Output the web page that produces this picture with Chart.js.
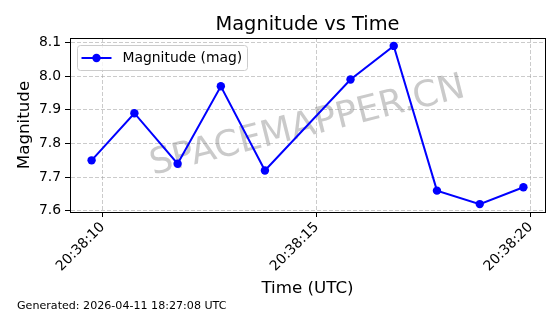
<!DOCTYPE html>
<html>
<head>
<meta charset="utf-8">
<script src="https://cdn.jsdelivr.net/npm/chart.js@4"></script>
<style>
  html, body { margin: 0; padding: 0; background: #fff; }
</style>
</head>
<body>
<canvas id="magChart" width="560" height="314"></canvas>
<script>
// data
const times = [
  "20:38:09.74", "20:38:10.74", "20:38:11.75", "20:38:12.76", "20:38:13.79",
  "20:38:15.79", "20:38:16.80", "20:38:17.81", "20:38:18.81", "20:38:19.83",
];
const magnitudes = [7.75, 7.89, 7.74, 7.97, 7.72, 7.99, 8.09, 7.66, 7.62, 7.67];
const xTickLabels = ["20:38:10", "20:38:15", "20:38:20"];
const yTickValues = [7.6, 7.7, 7.8, 7.9, 8.0, 8.1];

const seriesLabel = "Magnitude (mag)";
const titleText = "Magnitude vs Time";
const footerText = "Generated: 2026-04-11 18:27:08 UTC";
const watermarkText = "SPACEMAPPER.CN";

const FONT = "'DejaVu Sans', sans-serif";
const BLUE = "#0000ff";

function toSeconds(t) {
  const p = t.split(":");
  return Number(p[0]) * 3600 + Number(p[1]) * 60 + Number(p[2]);
}
function pad2(n) {
  return String(n).padStart(2, "0");
}
function fmtTime(s) {
  s = Math.round(s);
  return pad2(Math.floor(s / 3600)) + ":" + pad2(Math.floor((s % 3600) / 60)) + ":" + pad2(s % 60);
}

const xs = times.map(toSeconds);
const xTicks = xTickLabels.map(toSeconds);

// matplotlib style 5% margins
const xMin = Math.min(...xs), xMax = Math.max(...xs);
const yMin = Math.min(...magnitudes), yMax = Math.max(...magnitudes);
const xm = (xMax - xMin) * 0.05, ym = (yMax - yMin) * 0.05;

const decor = {
  id: "decor",
  beforeDatasetsDraw(chart) {
    const { ctx, chartArea: a } = chart;
    ctx.save();
    ctx.translate((a.left + a.right) / 2, (a.top + a.bottom) / 2 + 1.5);
    ctx.rotate(-14 * Math.PI / 180);
    ctx.font = "36px " + FONT;
    ctx.fillStyle = "rgba(128,128,128,0.42)";
    ctx.textAlign = "center";
    ctx.textBaseline = "middle";
    ctx.fillText(watermarkText, 0, 0);
    ctx.restore();
  },
  afterDatasetsDraw(chart) {
    const { ctx, chartArea: a } = chart;
    ctx.save();
    ctx.strokeStyle = "#000";
    ctx.lineWidth = 1;
    ctx.strokeRect(Math.round(a.left) + 0.5, Math.round(a.top) + 0.5,
      Math.round(a.right - a.left), Math.round(a.bottom - a.top));
    ctx.restore();
  },
  afterDraw(chart) {
    const { ctx, chartArea: a } = chart;
    ctx.save();
    // title
    ctx.fillStyle = "#000";
    ctx.font = "19.4px " + FONT;
    ctx.textAlign = "center";
    ctx.textBaseline = "alphabetic";
    ctx.fillText(titleText, (a.left + a.right) / 2, 30);
    // footer
    ctx.font = "11.1px " + FONT;
    ctx.textAlign = "left";
    ctx.fillText(footerText, 17, 309);

    // legend box
    const ds = chart.data.datasets[0];
    const bx = a.left + 7.5, by = a.top + 7.5, bw = 170, bh = 25;
    ctx.beginPath();
    ctx.roundRect(bx, by, bw, bh, 3);
    ctx.fillStyle = "rgba(255,255,255,0.8)";
    ctx.fill();
    ctx.strokeStyle = "#cccccc";
    ctx.lineWidth = 1;
    ctx.stroke();
    const ly = by + 12.5;
    ctx.beginPath();
    ctx.moveTo(bx + 4, ly);
    ctx.lineTo(bx + 34, ly);
    ctx.strokeStyle = ds.borderColor;
    ctx.lineWidth = ds.borderWidth;
    ctx.stroke();
    ctx.beginPath();
    ctx.arc(bx + 19, ly, ds.pointRadius, 0, Math.PI * 2);
    ctx.fillStyle = ds.pointBackgroundColor;
    ctx.fill();
    ctx.fillStyle = "#000";
    ctx.font = "13.9px " + FONT;
    ctx.textBaseline = "middle";
    ctx.fillText(ds.label, bx + 45, ly);
    ctx.restore();
  },
};

const gridColor = "rgba(160,160,160,0.55)";

new Chart(document.getElementById("magChart"), {
  type: "line",
  data: {
    datasets: [
      {
        label: seriesLabel,
        data: xs.map((x, i) => ({ x: x, y: magnitudes[i] })),
        borderColor: BLUE,
        backgroundColor: BLUE,
        pointBackgroundColor: BLUE,
        pointBorderColor: BLUE,
        borderWidth: 2,
        pointRadius: 4.2,
        pointBorderWidth: 0,
        tension: 0,
        clip: false,
      },
    ],
  },
  options: {
    responsive: false,
    animation: false,
    events: [],
    layout: { padding: { top: 38, right: 15, bottom: 0, left: 0 } },
    plugins: {
      legend: { display: false },
      title: { display: false },
      tooltip: { enabled: false },
    },
    scales: {
      x: {
        type: "linear",
        min: xMin - xm,
        max: xMax + xm,
        afterBuildTicks: (s) => { s.ticks = xTicks.map((v) => ({ value: v })); },
        afterFit: (s) => { s.height = 102; },
        ticks: {
          autoSkip: false,
          minRotation: 45,
          maxRotation: 45,
          padding: 2,
          color: "#000",
          font: { family: FONT, size: 13.9 },
          callback: (v) => fmtTime(v),
        },
        grid: {
          color: gridColor,
          lineWidth: 1,
          borderDash: [4, 2],
          tickLength: 5,
          tickColor: "#000",
          tickWidth: 1,
          tickBorderDash: [],
        },
        border: { display: true, color: "#000", width: 1, dash: [4, 2] },
        title: {
          display: true,
          text: "Time (UTC)",
          color: "#000",
          font: { family: FONT, size: 16.7 },
          padding: { top: 0, bottom: 15 },
        },
      },
      y: {
        min: yMin - ym,
        max: yMax + ym,
        afterBuildTicks: (s) => { s.ticks = yTickValues.map((v) => ({ value: v })); },
        afterFit: (s) => { s.width = 70; },
        ticks: {
          padding: 4,
          color: "#000",
          font: { family: FONT, size: 13.9 },
          callback: (v) => v.toFixed(1),
        },
        grid: {
          color: gridColor,
          lineWidth: 1,
          borderDash: [4, 2],
          tickLength: 5,
          tickColor: "#000",
          tickWidth: 1,
          tickBorderDash: [],
        },
        border: { display: true, color: "#000", width: 1, dash: [4, 2] },
        title: {
          display: true,
          text: "Magnitude",
          color: "#000",
          font: { family: FONT, size: 16.7 },
          padding: { top: 15, bottom: 0 },
        },
      },
    },
  },
  plugins: [decor],
});
</script>
</body>
</html>
